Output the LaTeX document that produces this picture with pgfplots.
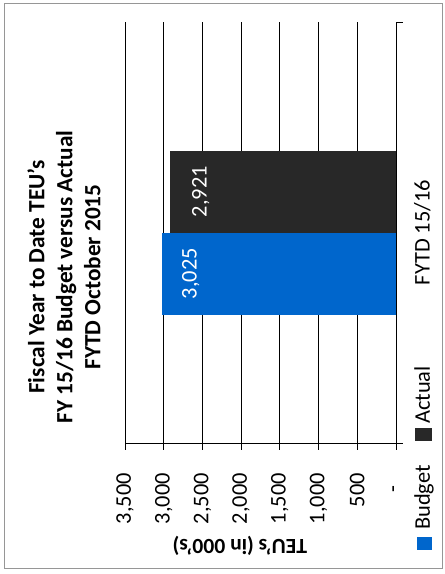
\documentclass[border=0pt]{standalone}
\usepackage{pgfplots}
\pgfplotsset{compat=1.18}
\usepackage{fontspec}
\setmainfont{Carlito}
\definecolor{budget}{RGB}{0,102,204}
\definecolor{actual}{RGB}{40,40,40}
\definecolor{frame}{RGB}{150,150,150}
\newcommand\fs{\fontsize{22.4bp}{27bp}\selectfont}
\begin{document}
\begin{tikzpicture}
\begin{axis}[
  scale only axis, width=271bp, height=421bp,
  xbar, x dir=reverse,
  xmin=0, xmax=3500, ymin=-1, ymax=1,
  bar width=82bp,
  clip=false,
  axis x line*=bottom, axis y line*=right,
  axis line style={black, line width=0.8bp},
  xtick={0,500,...,3500},
  xticklabels={{-\kern0.55em},500,{1,000},{1,500},{2,000},{2,500},{3,000},{3,500}},
  xticklabel style={font=\fs, rotate=90, anchor=east, inner sep=0pt},
  xticklabel shift=23bp,
  xmajorgrids, grid style={black, line width=0.8bp},
  tick align=outside,
  major tick length=7bp,
  tick style={black, line width=0.8bp},
  ytick={-1,1}, yticklabels={},
  extra y ticks={0}, extra y tick labels={FYTD 15/16},
  extra y tick style={major tick length=0pt,
    yticklabel style={font=\fs, rotate=90, anchor=north, inner sep=0pt}},
  yticklabel shift=18bp,
  /pgf/number format/.cd, fixed, precision=0, 1000 sep={,}, assume math mode=true,
  /pgfplots/.cd,
  title={Fiscal Year to Date TEU's\\FY 15/16 Budget versus Actual\\FYTD October 2015},
  title style={font=\bfseries\fontsize{23.3bp}{28bp}\selectfont, align=center,
    rotate=90, anchor=center, at={(axis description cs:-0.225,0.38)}},
  xlabel={TEU's (in 000's)},
  xlabel style={font=\bfseries\fontsize{21.6bp}{26bp}\selectfont, rotate=180,
    anchor=center, at={(axis description cs:0.424,-0.245)}},
]
\addplot[fill=budget, draw=none, bar shift=-41bp,
  nodes near coords,
  nodes near coords style={white, font=\fs, anchor=center, xshift=29bp, rotate=90}]
  coordinates {(3025,0)};
\addplot[fill=actual, draw=none, bar shift=41bp,
  nodes near coords,
  nodes near coords style={white, font=\fs, anchor=center, xshift=31bp, rotate=90}]
  coordinates {(2921,0)};
% legend (rotated, as in the reference)
\fill[budget] (axis description cs:1.0775,-0.2233) rectangle (axis description cs:1.1328,-0.2542);
\node[rotate=90, font=\fs, anchor=base west, inner sep=0pt] at (axis description cs:1.1255,-0.2067) {Budget};
\fill[actual] (axis description cs:1.0701,0.0356) rectangle (axis description cs:1.1328,0.0048);
\node[rotate=90, font=\fs, anchor=base west, inner sep=0pt] at (axis description cs:1.1255,0.0451) {Actual};
\draw[frame, line width=1bp] (axis description cs:-0.443,1.045) rectangle (axis description cs:1.170,-0.297);
\coordinate (bbsw) at (axis description cs:-0.4613,-0.3112);
\coordinate (bbne) at (axis description cs:1.1808,1.0523);
\end{axis}
\pgfresetboundingbox
\path (bbsw) rectangle (bbne);
\end{tikzpicture}
\end{document}
